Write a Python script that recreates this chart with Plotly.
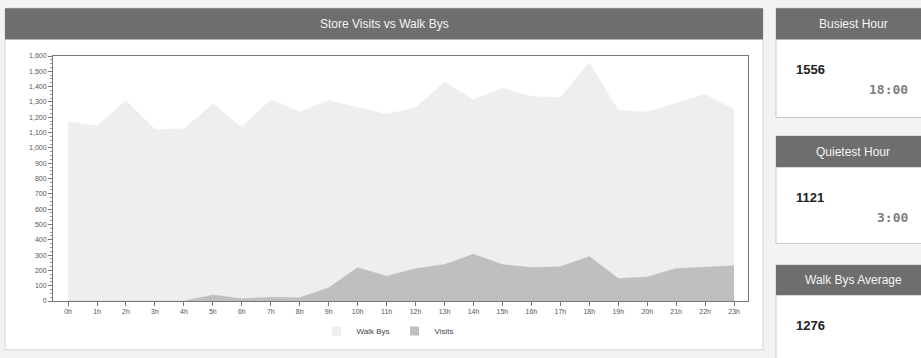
import plotly.graph_objects as go

hours = ["0h", "1h", "2h", "3h", "4h", "5h", "6h", "7h", "8h", "9h", "10h", "11h",
         "12h", "13h", "14h", "15h", "16h", "17h", "18h", "19h", "20h", "21h", "22h", "23h"]
walk_bys = [1170, 1145, 1310, 1121, 1125, 1287, 1134, 1315, 1234, 1310, 1265, 1220,
            1262, 1430, 1314, 1390, 1335, 1329, 1556, 1244, 1235, 1293, 1350, 1250]
visits = [0, 0, 0, 0, 0, 40, 15, 24, 21, 87, 218, 162,
          212, 238, 306, 238, 218, 224, 290, 147, 157, 212, 222, 230]
y_ticks = list(range(0, 1601, 100))

cards = [("Busiest Hour", "1556", "18:00"),
         ("Quietest Hour", "1121", "3:00"),
         ("Walk Bys Average", "1276", "")]

W, H = 921, 358
L, R, T, B = 53, 748, 56, 307
WALK_C = "#eeeeee"
VIS_C = "#bfbfbf"


def px(x):
    return (x - L) / (R - L)


def py(y):
    return (B - y) / (B - T)


xs = list(range(len(hours)))
fig = go.Figure()
fig.add_trace(go.Scatter(x=xs, y=walk_bys, name="Walk Bys", mode="lines",
                         fill="tozeroy", fillcolor=WALK_C, showlegend=False,
                         line=dict(color=WALK_C, width=0.5)))
fig.add_trace(go.Scatter(x=xs, y=visits, name="Visits", mode="lines",
                         fill="tozeroy", fillcolor=VIS_C, showlegend=False,
                         line=dict(color=VIS_C, width=0.5)))
# legend entries with square swatches
for name, c in (("Walk Bys", WALK_C), ("Visits", VIS_C)):
    fig.add_trace(go.Scatter(x=[None], y=[None], name=name, mode="markers",
                             marker=dict(symbol="square", size=9, color=c)))

shapes = []
annotations = []


def rect(x0, y0, x1, y1, fill, line="rgba(0,0,0,0)", lw=0):
    shapes.append(dict(type="rect", xref="paper", yref="paper",
                       x0=px(x0), x1=px(x1), y0=py(y1), y1=py(y0),
                       fillcolor=fill, line=dict(color=line, width=lw),
                       layer="below"))


def text(x, y, s, size=12, color="white", xanchor="center", family="Liberation Sans", bold=False):
    if bold:
        s = "<b>" + s + "</b>"
    annotations.append(dict(xref="paper", yref="paper", x=px(x), y=py(y), text=s,
                            showarrow=False, xanchor=xanchor, yanchor="middle",
                            font=dict(size=size, color=color, family=family)))


# main panel
rect(5, 7, 763, 357, "white", "#d4d4d4", 1)
rect(5, 7, 763, 39, "#6e6e6e")
text(384, 23, "Store Visits vs Walk Bys", 12, "#f4f4f4")

# right cards
card_geo = [(7, 39, 119), (138, 170, 248), (270, 301, 370)]
for (title, val, sub), (h0, h1, b1) in zip(cards, card_geo):
    rect(776, h0, 930, b1, "white", "#c8c8c8", 1)
    rect(776, h0, 930, h1, "#6e6e6e")
    text(853, (h0 + h1) / 2, title, 12, "#f4f4f4")
    text(794, h1 + 31, val, 13, "#222222", "left", bold=True)
    if sub:
        text(910, h1 + 51, sub, 13, "#808080", "right", family="DejaVu Sans Mono", bold=True)

fig.update_layout(
    width=W, height=H,
    margin=dict(l=L, r=W - R, t=T, b=H - B),
    paper_bgcolor="#f3f3f3",
    plot_bgcolor="white",
    shapes=shapes,
    annotations=annotations,
    showlegend=True,
    legend=dict(orientation="h", x=px(388), y=py(323), xanchor="center", yanchor="top",
                font=dict(size=8, color="#444444", family="Liberation Sans"),
                bgcolor="rgba(0,0,0,0)", itemwidth=30, tracegroupgap=0),
    xaxis=dict(range=[-0.52, 23.48], tickmode="array", tickvals=xs, ticktext=hours,
               showgrid=False, zeroline=False, showline=True, linecolor="#777777",
               mirror=True, ticks="outside", ticklen=4, tickcolor="#777777",
               tickfont=dict(size=7, color="#555555", family="Liberation Sans")),
    yaxis=dict(range=[0, 1600], tickmode="array", tickvals=y_ticks, tickformat=",",
               showgrid=False, zeroline=False, showline=True, linecolor="#777777",
               mirror=True, ticks="outside", ticklen=4, tickcolor="#777777",
               minor=dict(ticks="outside", ticklen=2, dtick=25, tickcolor="#999999"),
               tickfont=dict(size=7, color="#555555", family="Liberation Sans")),
)

fig.write_html("out.html")
